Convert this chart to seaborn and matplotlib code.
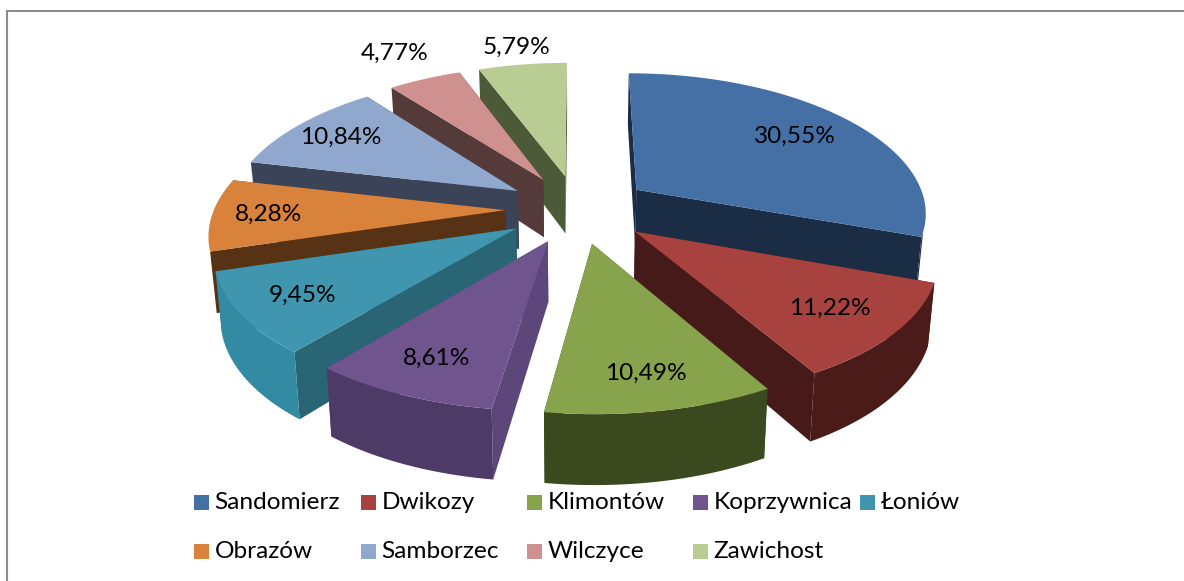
import numpy as np
import matplotlib
matplotlib.use("Agg")
import matplotlib.pyplot as plt
import seaborn as sns

communes = ["Sandomierz", "Dwikozy", "Klimontów", "Koprzywnica", "Łoniów",
            "Obrazów", "Samborzec", "Wilczyce", "Zawichost"]
shares = [30.55, 11.22, 10.49, 8.61, 9.45, 8.28, 10.84, 4.77, 5.79]
top_hex = ["#4470A6", "#A8423F", "#87A34C", "#70548E", "#3F96AE",
           "#D8823C", "#91A8CE", "#CF918F", "#B8CC94"]
cut_hex = ["#1A2D45", "#451A18", "#3A4A20", "#5D4679", "#296575",
           "#573214", "#3A4358", "#553A3A", "#4C5A38"]
rim_hex = ["#1A2D45", "#4A1B18", "#3A4A1E", "#4E3A66", "#338AA3",
           "#573214", "#3A4358", "#553A3A", "#4C5A38"]

sns.set_theme(style="white")
plt.rcParams["font.family"] = ["Lato", "DejaVu Sans"]
top_pal = sns.color_palette(top_hex)
cut_pal = sns.color_palette(cut_hex)
rim_pal = sns.color_palette(rim_hex)

CX, CY = 578.0, 209.0
RX, RY = 291.0, 137.0
KX, KY = 0.152, 0.135
EXPLODE = 0.25
DEPTH, SHRINK = 59.0, 0.982
LABEL_RADIUS = [0.74, 0.77, 0.80, 0.79, 0.79, 0.81, 0.80, 1.29, 1.18]


def project(theta, radius, mid, lower=False):
    """theta/mid in radians clockwise from north, radius in pie radii."""
    X = radius * np.sin(theta) + EXPLODE * np.sin(mid)
    Y = radius * np.cos(theta) + EXPLODE * np.cos(mid)
    px = X / (1.0 + KX * Y) * RX
    py = -Y / (1.0 + KY * Y) * RY
    if lower:
        return CX + px * SHRINK, CY + py + DEPTH / (1.0 + KY * Y)
    return CX + px, CY + py


fig = plt.figure(figsize=(11.84, 5.81), dpi=100)
ax = fig.add_axes([0, 0, 1, 1])
ax.set_xlim(0, 1184)
ax.set_ylim(581, 0)
ax.axis("off")

edges = np.concatenate([[0.0], np.cumsum(shares)]) / np.sum(shares) * 2 * np.pi
mids = (edges[:-1] + edges[1:]) / 2
order = np.argsort(np.cos(mids))[::-1]

for i in order:
    a, b, m = edges[i], edges[i + 1], mids[i]
    th = np.linspace(a, b, 160)
    tx, ty = project(th, 1.0, m)
    bx, by = project(th, 1.0, m, True)
    ax0, ay0 = project(0.0, 0.0, m)
    bx0, by0 = project(0.0, 0.0, m, True)
    ax.fill([ax0, tx[0], bx[0], bx0], [ay0, ty[0], by[0], by0],
            color=cut_pal[i], lw=0, zorder=1)
    ax.fill([ax0, tx[-1], bx[-1], bx0], [ay0, ty[-1], by[-1], by0],
            color=cut_pal[i], lw=0, zorder=1)
    front = np.cos(th) < -0.3
    if front.any():
        ax.fill(np.r_[tx[front], bx[front][::-1]], np.r_[ty[front], by[front][::-1]],
                color=rim_pal[i], lw=0, zorder=1)
    ax.fill(np.r_[ax0, tx], np.r_[ay0, ty], color=top_pal[i], lw=0, zorder=1)
    lx, ly = project(m, LABEL_RADIUS[i], m)
    ax.text(lx, ly, f"{shares[i]:.2f}%".replace(".", ","), ha="center",
            va="center", fontsize=17.6, color="black", zorder=5)

# frame
ax.plot([7, 7], [581, 11], color="#8C8C8C", lw=1.5, zorder=6)
ax.plot([7, 1184], [11, 11], color="#8C8C8C", lw=1.5, zorder=6)

# legend
cols = [194, 361, 527, 693, 860]
rows = [502.5, 551]
for n, name in enumerate(communes):
    col = cols[n % 5] if n < 5 else cols[n - 5]
    row = rows[0] if n < 5 else rows[1]
    ax.add_patch(plt.Rectangle((col, row - 7.5), 15, 15, color=top_pal[n], lw=0, zorder=6))
    ax.text(col + 20.5, row, name, ha="left", va="center", fontsize=17.6, color="black", zorder=6)

fig.savefig("out.png", dpi=100, facecolor="white")
